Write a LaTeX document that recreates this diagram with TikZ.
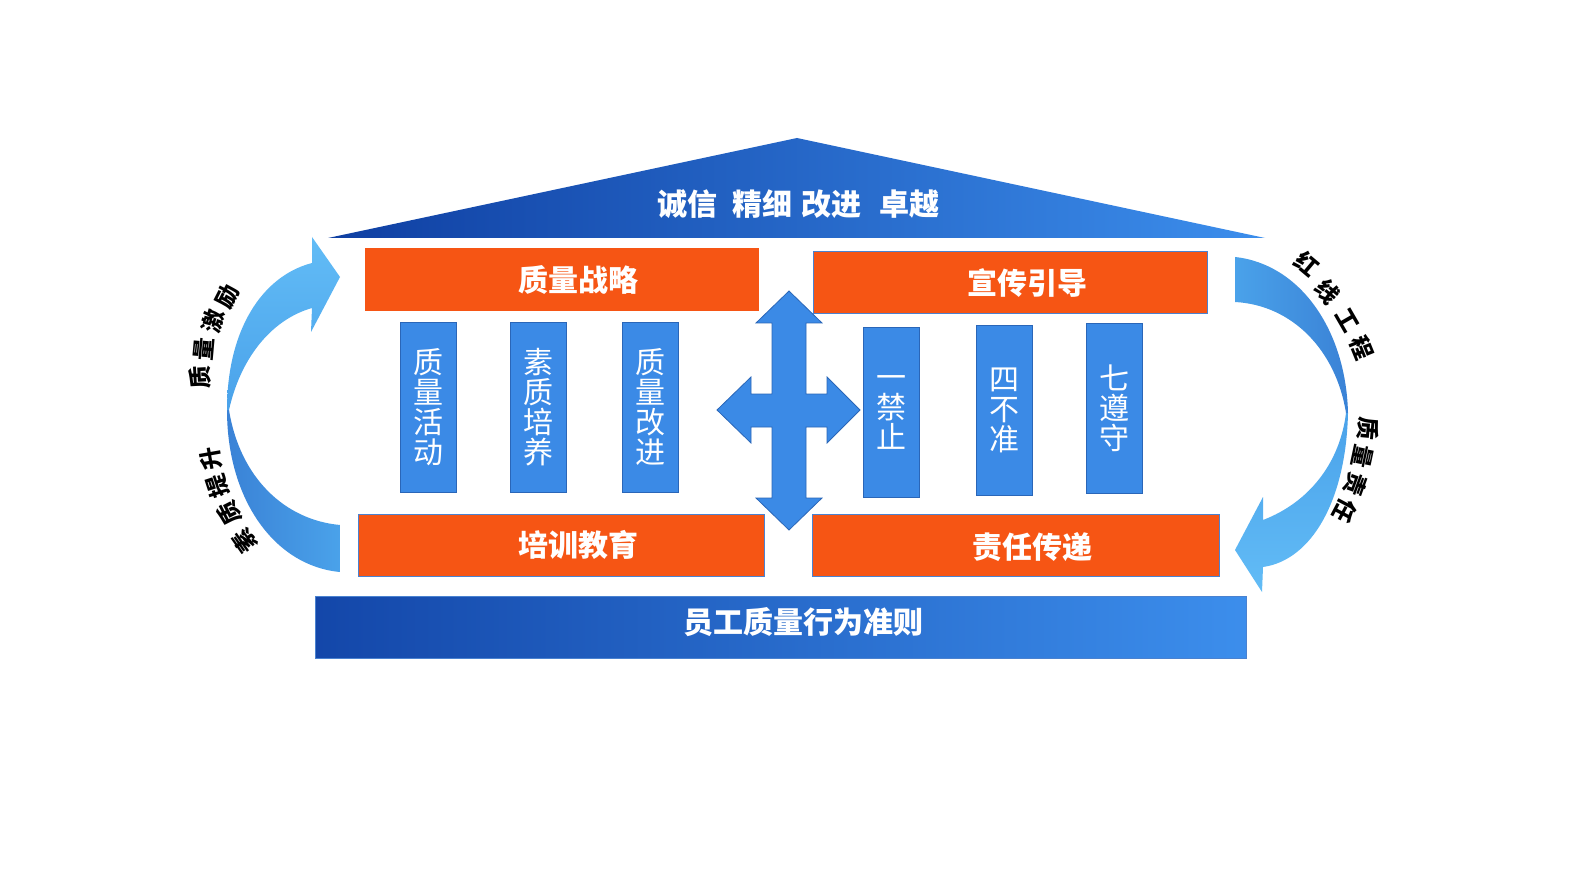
\documentclass[tikz,border=0pt]{standalone}
\usepackage{fontspec}
\newfontfamily\cjk{Noto Sans CJK SC}
\definecolor{orng}{HTML}{F65514}
\definecolor{edgeblue}{HTML}{4A82D0}
\definecolor{colblue}{HTML}{3B8AE6}
\definecolor{coledge}{HTML}{2A66B8}
\definecolor{roofdark}{HTML}{0F3FA2}
\definecolor{rooflight}{HTML}{3C8EEC}
\definecolor{arrlight}{HTML}{62BCF6}
\definecolor{arrmid}{HTML}{4AA2EA}
\definecolor{arrdark}{HTML}{3A82D6}
\tikzset{
  orangebox/.style={fill=orng, draw=edgeblue, line width=0.8pt, minimum height=62, inner sep=0},
  colbox/.style={fill=colblue, draw=coledge, line width=0.8pt, minimum width=56, minimum height=170, inner sep=0, align=center, text=white, font=\cjk\fontsize{30}{30}\selectfont},
  lbl/.style={text=white, inner sep=0, font=\cjk\bfseries\fontsize{30}{34}\selectfont},
  arclbl/.style={inner sep=0, text=black, font=\cjk\bfseries\fontsize{23}{23}\selectfont}
}
\begin{document}
\begin{tikzpicture}[x=1pt,y=-1pt]
\useasboundingbox[fill=white] (0,0) rectangle (1575,893);

% roof
\shade[left color=roofdark, right color=rooflight] (797,138) -- (1265,238) -- (328,238) -- cycle;
\node[lbl] (roof) at (798,204) {诚信\hspace{16pt}精细\hspace{9pt}改进\hspace{17pt}卓越};

% orange boxes
\node[orangebox, minimum width=393, draw=orng] (b1) at (561.5,279) {};
\node[lbl] (t1) at (578,280) {质量战略};
\node[orangebox, minimum width=394] (b2) at (1010,282) {};
\node[lbl] (t2) at (1027,283) {宣传引导};
\node[orangebox, minimum width=406] (b3) at (561,545) {};
\node[lbl] (t3) at (578,545) {培训教育};
\node[orangebox, minimum width=407] (b4) at (1015.5,545) {};
\node[lbl] (t4) at (1032,547) {责任传递};

% columns
\node[colbox] (c1) at (428,407) {质\\量\\活\\动};
\node[colbox] (c2) at (538.5,407) {素\\质\\培\\养};
\node[colbox] (c3) at (650.5,407) {质\\量\\改\\进};
\node[colbox] (c4) at (891.5,412) {一\\禁\\止};
\node[colbox] (c5) at (1004.5,410) {四\\不\\准};
\node[colbox] (c6) at (1114.5,408) {七\\遵\\守};

% four-way arrow
\filldraw[fill=colblue, draw=coledge, line width=0.8pt]
 (789,291) -- (822,323) -- (806,323) -- (806,394) -- (827,394) -- (827,377) -- (860,410)
 -- (827,443) -- (827,427) -- (806,427) -- (806,498) -- (822,498) -- (789,530)
 -- (756,498) -- (772,498) -- (772,427) -- (751,427) -- (751,443) -- (717,410)
 -- (751,377) -- (751,394) -- (772,394) -- (772,323) -- (756,323) -- cycle;

% bottom bar
\shade[left color=roofdark!90!rooflight, right color=rooflight, draw=edgeblue] (315,596) rectangle (1246,658);
\node[lbl] (base) at (803,622) {员工质量行为准则};

% left curved arrow: lower (back) part
\shade[left color=arrdark, right color=arrmid]
 (227,410) .. controls (227,500) and (275,566) .. (340,572) -- (340,525)
 .. controls (285,520) and (240,478) .. (229,410) -- cycle;
% left curved arrow: upper part with head
\shade[bottom color=arrmid, top color=arrlight]
 (227,410) .. controls (227,330) and (262,276) .. (312,263) -- (312,237) -- (340,277)
 -- (311,332) -- (312,308) .. controls (270,320) and (240,360) .. (229,410) -- cycle;

% right curved arrow: upper (back) part
\shade[left color=arrmid, right color=arrdark]
 (1235,257) .. controls (1300,264) and (1346,330) .. (1348,413) -- (1346,413)
 .. controls (1336,350) and (1292,305) .. (1235,302) -- cycle;
% right curved arrow: lower part with head
\shade[top color=arrmid, bottom color=arrlight]
 (1348,413) .. controls (1346,500) and (1312,560) .. (1263,567) -- (1262,592) -- (1235,550)
 -- (1263,497) -- (1263,520) .. controls (1310,502) and (1340,462) .. (1346,413) -- cycle;

% curved labels
\node[arclbl, rotate=93] (l1) at (200,377) {质};
\node[arclbl, rotate=85] (l2) at (204,349) {量};
\node[arclbl, rotate=75] (l3) at (213,321) {激};
\node[arclbl, rotate=63] (l4) at (227,296) {励};

\node[arclbl, rotate=125] (m1) at (245,541) {素};
\node[arclbl, rotate=117] (m2) at (229,513) {质};
\node[arclbl, rotate=108] (m3) at (218,486) {提};
\node[arclbl, rotate=100] (m4) at (211,459) {升};

\node[arclbl, rotate=-40] (r1) at (1307,264) {红};
\node[arclbl, rotate=-50] (r2) at (1328,292) {线};
\node[arclbl, rotate=-60] (r3) at (1347,320) {工};
\node[arclbl, rotate=-68] (r4) at (1362,348) {程};

\node[arclbl, rotate=-95] (s1) at (1368,429) {质};
\node[arclbl, rotate=-102] (s2) at (1363,457) {量};
\node[arclbl, rotate=-110] (s3) at (1356,484) {责};
\node[arclbl, rotate=-118] (s4) at (1345,511) {任};
\end{tikzpicture}
\end{document}
